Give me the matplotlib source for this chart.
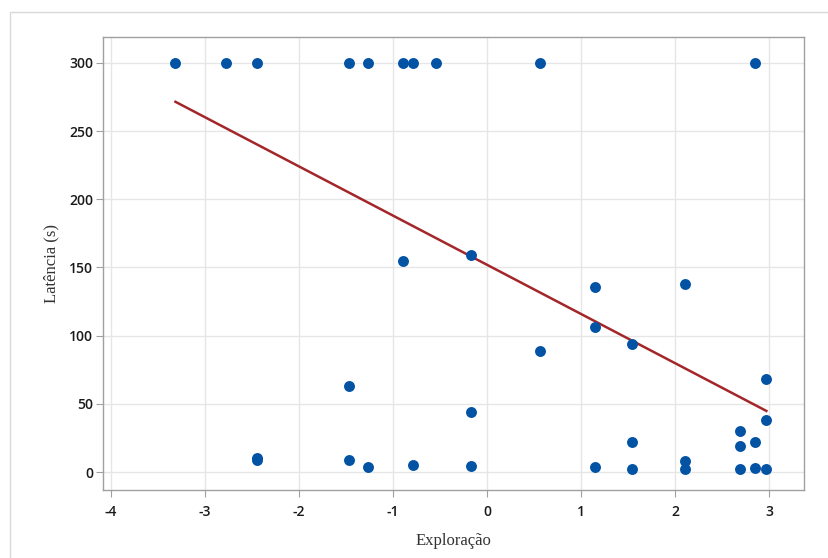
import numpy as np
import matplotlib
matplotlib.use("Agg")
import matplotlib.pyplot as plt
from matplotlib.patches import Rectangle

plt.rcParams["axes.unicode_minus"] = False

# Data
exploracao = [-3.31, -2.77, -2.44, -1.465, -1.26, -0.89, -0.79, -0.54, 0.56, 2.85,
              -0.89, -0.17, 1.15, 2.11, 1.15, 1.54, 0.56, 2.97, -1.465, -0.17,
              2.97, 2.69, 1.54, 2.69, 2.85, -2.44, -2.44, -1.465, -1.26, -0.79,
              -0.17, 1.15, 1.54, 2.11, 2.11, 2.69, 2.85, 2.97]
latencia = [300, 300, 300, 300, 300, 300, 300, 300, 300, 300,
            155, 159, 136, 138, 106, 94, 89, 68, 63, 44,
            38, 30, 22, 19, 22, 10.5, 8.8, 8.8, 3.7, 5.5,
            4.5, 3.7, 2.2, 8, 2.2, 2.2, 3, 2.2]

# Regression line (intercept, slope)
fit_intercept = 152.0
fit_slope = -36.1

x_ticks = [-4, -3, -2, -1, 0, 1, 2, 3]
y_ticks = [0, 50, 100, 150, 200, 250, 300]

fig = plt.figure(figsize=(8.29, 5.58), dpi=100)
fig.patches.append(Rectangle((10/829, -0.1), 1.2, (558-12)/558 + 0.1,
                             transform=fig.transFigure, fill=False,
                             edgecolor="#d9d9d9", linewidth=1.0))
ax = fig.add_axes([103/829, 1-490/558, (804-103)/829, (490-37)/558])

ax.set_xlim(-4.08, 3.37)
ax.set_ylim(-13.2, 319)
ax.set_xticks(x_ticks)
ax.set_yticks(y_ticks)
ax.grid(True, color="#e6e6e6", linewidth=1.0)
ax.set_axisbelow(True)
for s in ax.spines.values():
    s.set_color("#a0a0a0")
    s.set_linewidth(1.0)
ax.tick_params(direction="out", length=5, color="#a0a0a0", labelcolor="#1a1a1a",
               labelsize=10)
ax.tick_params(axis="x", pad=6)
ax.tick_params(axis="y", pad=2)
for lab in ax.get_xticklabels() + ax.get_yticklabels():
    lab.set_fontfamily("Open Sans")
    lab.set_fontweight("semibold")

xs = np.array(exploracao)
ax.scatter(xs, latencia, s=62, color="#0353a4", zorder=3, linewidths=0)
xl = np.array([xs.min(), xs.max()])
ax.plot(xl, fit_intercept + fit_slope * xl, color="#a3262a", linewidth=1.8, zorder=2)

ax.set_xlabel("Exploração", fontfamily="Liberation Serif", fontsize=12, color="#333333", labelpad=10)
ax.set_ylabel("Latência (s)", fontfamily="Liberation Serif", fontsize=12, color="#333333", labelpad=7)

fig.savefig("out.png", dpi=100)
